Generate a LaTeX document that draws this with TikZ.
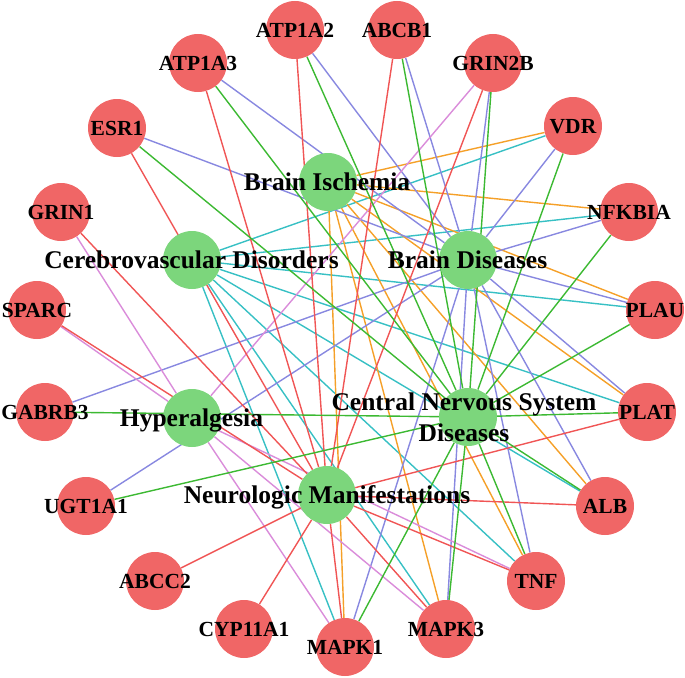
\documentclass[tikz,border=0pt]{standalone}
\usepackage{fontspec}
\setmainfont{Liberation Serif}
\usetikzlibrary{backgrounds}
\definecolor{genered}{RGB}{240,102,102}
\definecolor{disgreen}{RGB}{124,214,124}
\definecolor{eBI}{RGB}{245,160,40}
\definecolor{eCD}{RGB}{55,192,196}
\definecolor{eBD}{RGB}{136,136,224}
\definecolor{eCNS}{RGB}{60,185,50}
\definecolor{eH}{RGB}{218,140,218}
\definecolor{eNM}{RGB}{240,85,85}
\begin{document}
\begin{tikzpicture}[x=1pt,y=-1pt,
  gene/.style={circle,fill=genered,draw=none,minimum size=58pt,inner sep=0pt},
  dis/.style={circle,fill=disgreen,draw=none,minimum size=58pt,inner sep=0pt},
  glabel/.style={font=\fontsize{21.5}{22}\selectfont\bfseries,inner sep=0pt,anchor=base},
  dlabel/.style={font=\fontsize{25.5}{30}\selectfont\bfseries,inner sep=0pt,anchor=base},
  edgeline/.style={line width=1.4pt}]
\useasboundingbox (0,0) rectangle (685,677);
% gene nodes
\foreach \n/\x/\y in {ATP1A2/295/30, ABCB1/397/30, ATP1A3/198/63, GRIN2B/493/63,
  ESR1/117/128, VDR/573/126, GRIN1/61/212, NFKBIA/629/212, SPARC/37/310,
  PLAU/655/310, GABRB3/45/412, PLAT/647/412, UGT1A1/86/506, ALB/605/506,
  ABCC2/155/581, TNF/536/581, CYP11A1/244/629, MAPK3/446/629, MAPK1/345/647}{
  \node[gene] (\n) at (\x,\y) {};
  \node[glabel] (t\n) at (\x,\y+7.5) {\n};
}
% disease nodes
\node[dis] (BI) at (328,182) {};
\node[dis] (CD) at (192,260) {};
\node[dis] (BD) at (468,260) {};
\node[dis] (H) at (192,418) {};
\node[dis] (CNS) at (468,417) {};
\node[dis] (NM) at (327,495) {};
\node[dlabel] (tBI) at (327,190.5) {Brain Ischemia};
\node[dlabel] (tCD) at (191.5,268.5) {Cerebrovascular Disorders};
\node[dlabel] (tBD) at (467.5,268.5) {Brain Diseases};
\node[dlabel] (tH) at (191.5,426.5) {Hyperalgesia};
\node[dlabel] (tCNSa) at (464,410) {Central Nervous System};
\node[dlabel] (tCNSb) at (464,441) {Diseases};
\node[dlabel] (tNM) at (327,503.5) {Neurologic Manifestations};
% edges
\begin{scope}[on background layer]
\foreach \g in {VDR,NFKBIA,PLAU,PLAT,ALB,TNF,MAPK3,MAPK1}
  \draw[edgeline,eCD] (CD) -- (\g);
\foreach \g in {VDR,NFKBIA,PLAU,PLAT,ALB,TNF,MAPK3,MAPK1}
  \draw[edgeline,eBI] (BI) -- (\g);
\foreach \g in {ATP1A2,ABCB1,GRIN2B,VDR,NFKBIA,PLAU,PLAT,ALB,TNF,MAPK3,MAPK1,ESR1,ATP1A3,GABRB3,UGT1A1}
  \draw[edgeline,eBD] (BD) -- (\g);
\foreach \g in {GRIN2B,GRIN1,SPARC,TNF,MAPK3,MAPK1}
  \draw[edgeline,eH] (H) -- (\g);
\foreach \g in {ATP1A2,ABCB1,GRIN2B,ATP1A3,ESR1,GRIN1,SPARC,ABCC2,CYP11A1,MAPK1,MAPK3,TNF,ALB,PLAT}
  \draw[edgeline,eNM] (NM) -- (\g);
\foreach \g in {ATP1A2,ABCB1,GRIN2B,VDR,NFKBIA,PLAU,PLAT,ALB,TNF,MAPK3,MAPK1,ESR1,ATP1A3,GABRB3,UGT1A1}
  \draw[edgeline,eCNS] (CNS) -- (\g);
\end{scope}
\end{tikzpicture}
\end{document}
